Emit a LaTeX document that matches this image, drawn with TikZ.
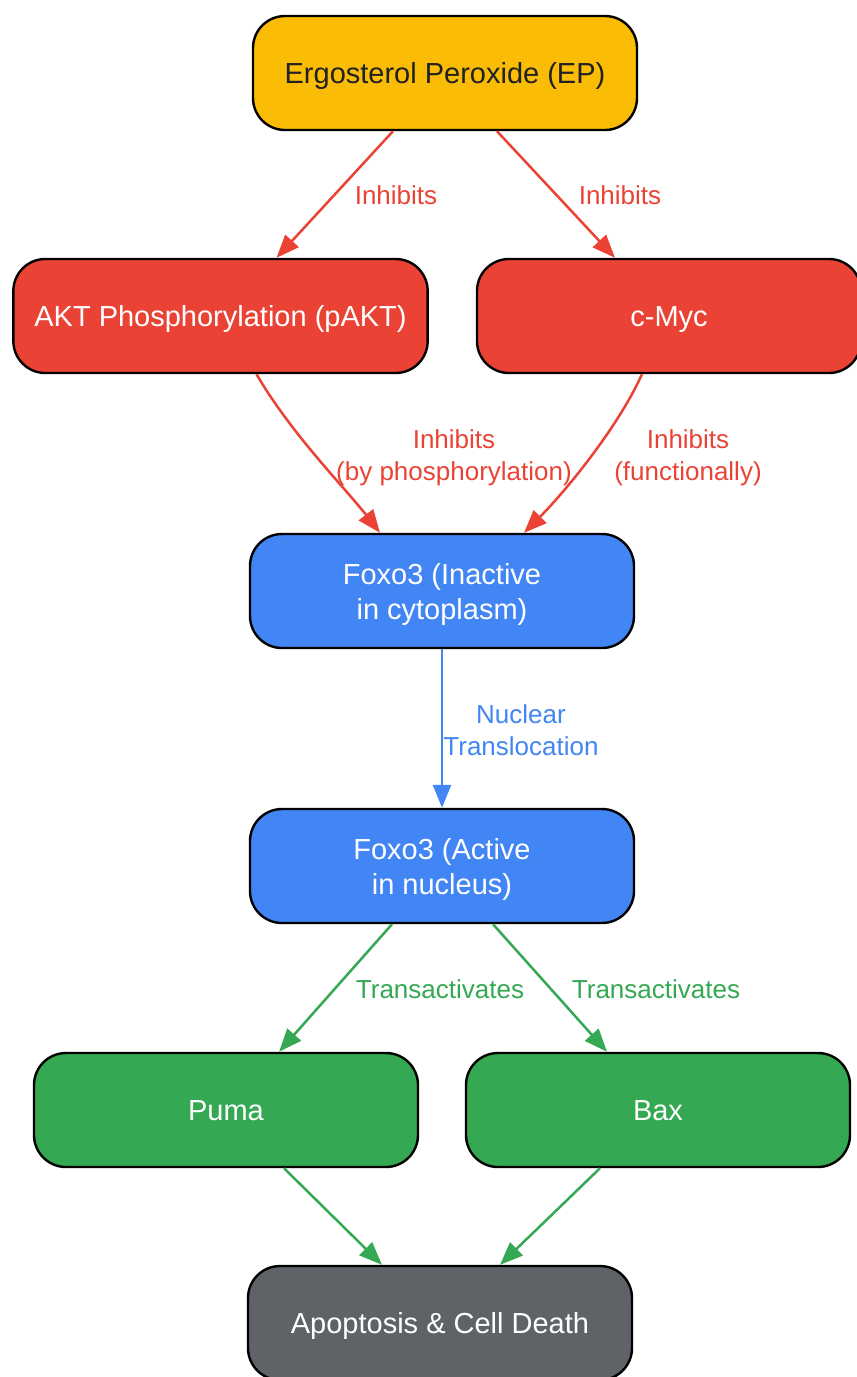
\documentclass[tikz,border=0pt]{standalone}
\usepackage{fontspec}
\setmainfont{Liberation Sans}
\usetikzlibrary{arrows.meta}
\definecolor{epyellow}{HTML}{FBBC05}
\definecolor{inhred}{HTML}{EA4335}
\definecolor{foxblue}{HTML}{4285F4}
\definecolor{actgreen}{HTML}{34A853}
\definecolor{deathgrey}{HTML}{5F6368}
\definecolor{darktext}{HTML}{202124}
\newcommand{\boxstrut}{\rule[-7pt]{0pt}{34.8pt}}
\newcommand{\tallstrut}{\rule[-7pt]{0pt}{36.8pt}}
\tikzset{
  box/.style={draw=black, line width=2.4pt, rounded corners=32pt,
    minimum width=384pt, minimum height=114pt, inner xsep=21pt,
    align=center, font=\fontsize{29}{35}\selectfont, text=white,
    execute at begin node=\boxstrut, execute at end node=\boxstrut},
  edgelbl/.style={align=center, font=\fontsize{26}{32}\selectfont},
  link/.style={line width=2.5pt, -{Triangle[length=23pt,width=18pt]}},
}
\begin{document}
\begin{tikzpicture}[x=1pt,y=-1pt]
    \useasboundingbox (0,0) rectangle (857,1377);

    % pathway boxes
    \node[box, fill=epyellow, text=darktext] (ep) at (445,73) {Ergosterol Peroxide (EP)};
    \node[box, fill=inhred] (pakt) at (220.5,316) {AKT Phosphorylation (pAKT)};
    \node[box, fill=inhred] (cmyc) at (669,316) {c-Myc};
    \node[box, fill=foxblue] (foxi) at (442,591) {\tallstrut Foxo3 (Inactive\\in cytoplasm)\boxstrut};
    \node[box, fill=foxblue] (foxa) at (442,866) {\tallstrut Foxo3 (Active\\in nucleus)\boxstrut};
    \node[box, fill=actgreen] (puma) at (226,1110) {Puma};
    \node[box, fill=actgreen] (bax) at (658,1110) {Bax};
    \node[box, fill=deathgrey] (apop) at (440,1323) {Apoptosis \& Cell Death};

    % connectors
    \draw[link, inhred] ([xshift=-52pt]ep.south) -- ([xshift=56pt]pakt.north);
    \draw[link, inhred] ([xshift=52pt]ep.south) -- ([xshift=-54pt]cmyc.north);
    \draw[link, inhred] ([xshift=36pt]pakt.south) .. controls +(35,60) and +(-35,-45) .. ([xshift=-62pt]foxi.north);
    \draw[link, inhred] ([xshift=-27pt]cmyc.south) .. controls +(-25,55) and +(40,-40) .. ([xshift=82pt]foxi.north);
    \draw[link, foxblue] (foxi) -- (foxa);
    \draw[link, actgreen] ([xshift=-50pt]foxa.south) -- ([xshift=53pt]puma.north);
    \draw[link, actgreen] ([xshift=51pt]foxa.south) -- ([xshift=-51pt]bax.north);
    \draw[link, actgreen] ([xshift=58pt]puma.south) -- ([xshift=-58pt]apop.north);
    \draw[link, actgreen] ([xshift=-58pt]bax.south) -- ([xshift=60pt]apop.north);

    % labels
    \node[edgelbl, text=inhred] (lbla) at (396,195) {Inhibits};
    \node[edgelbl, text=inhred] (lblb) at (620,195) {Inhibits};
    \node[edgelbl, text=inhred] (lblc) at (454,458) {Inhibits\\(by phosphorylation)};
    \node[edgelbl, text=inhred] (lbld) at (688,458) {Inhibits\\(functionally)};
    \node[edgelbl, text=foxblue] (lble) at (521,730) {Nuclear\\Translocation};
    \node[edgelbl, text=actgreen] (lblf) at (440,989) {Transactivates};
    \node[edgelbl, text=actgreen] (lblg) at (656,989) {Transactivates};
\end{tikzpicture}
\end{document}
